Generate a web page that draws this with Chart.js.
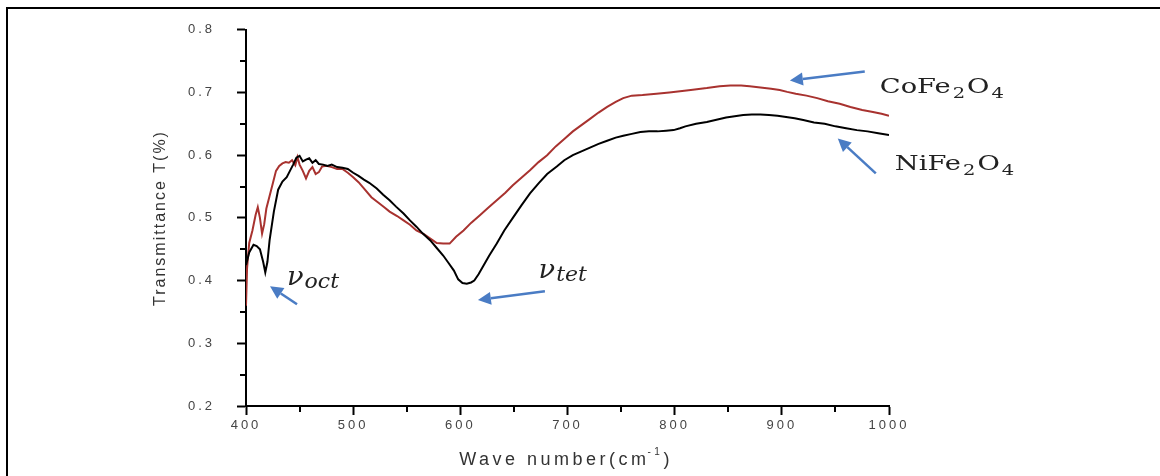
<!DOCTYPE html>
<html>
<head>
<meta charset="utf-8">
<script src="https://cdn.jsdelivr.net/npm/chart.js@4/dist/chart.umd.min.js"></script>
<style>
    body { margin: 0; background: #fff; }
    #wrap { position: relative; width: 1160px; height: 476px; }
    #frame {
        position: absolute; left: 6px; top: 7px; right: 0; bottom: 0;
        border-top: 2px solid #000; border-left: 2px solid #000;
        pointer-events: none;
    }
</style>
</head>
<body>
<div id="wrap">
    <canvas id="ftir"></canvas>
    <div id="frame"></div>
</div>
<script>
// ---------- DATA ----------
const niWave = [400, 403, 407, 410, 413, 416, 418, 420, 422, 426, 430, 434, 438, 441, 444, 447, 450, 453, 456, 459,
    462, 465, 468, 472, 476, 480, 485, 490, 495, 500, 505, 510, 515, 522, 528, 534, 540, 547, 553, 559,
    565, 572, 578, 584, 589, 594, 598, 602, 606, 610, 613, 617, 621, 627, 634, 641, 649, 657, 665, 673,
    681, 690, 697, 705, 713, 721, 729, 737, 745, 752, 760, 768, 776, 784, 792, 799, 805, 810, 820, 830,
    840, 848, 856, 864, 872, 880, 888, 896, 904, 912, 920, 930, 940, 950, 960, 970, 980, 990, 1000];
const niT = [0.425, 0.445, 0.457, 0.455, 0.45, 0.43, 0.413, 0.43, 0.464, 0.51, 0.545, 0.558, 0.565, 0.575, 0.585, 0.596, 0.599, 0.59, 0.593, 0.595,
    0.588, 0.592, 0.586, 0.585, 0.583, 0.585, 0.581, 0.58, 0.578, 0.572, 0.567, 0.561, 0.556, 0.547, 0.537, 0.528, 0.518, 0.507, 0.496, 0.486,
    0.475, 0.464, 0.452, 0.44, 0.428, 0.416, 0.402, 0.396, 0.395, 0.397, 0.4, 0.41, 0.422, 0.44, 0.459, 0.48, 0.5, 0.52, 0.539, 0.555,
    0.57, 0.582, 0.592, 0.6, 0.606, 0.612, 0.618, 0.623, 0.628, 0.631, 0.634, 0.637, 0.638, 0.638, 0.639, 0.64, 0.643, 0.646, 0.65, 0.653,
    0.657, 0.66, 0.662, 0.664, 0.665, 0.665, 0.664, 0.663, 0.661, 0.659, 0.656, 0.652, 0.65, 0.646, 0.643, 0.64, 0.638, 0.635, 0.632];

const coWave = [400, 401, 403, 406, 409, 411, 413, 415, 417, 419, 422, 425, 428, 431, 434, 437, 440, 443, 446, 448,
    450, 453, 456, 459, 462, 465, 468, 471, 475, 480, 485, 490, 495, 500, 505, 510, 517, 523, 529, 534,
    541, 547, 553, 559, 566, 572, 578, 584, 590, 596, 603, 610, 618, 626, 634, 642, 649, 657, 665, 673,
    681, 689, 697, 705, 713, 721, 729, 737, 745, 752, 760, 770, 783, 795, 805, 815, 830, 842, 852, 862,
    870, 880, 890, 898, 905, 913, 923, 933, 943, 954, 964, 975, 985, 993, 1000];
const coT = [0.36, 0.42, 0.46, 0.48, 0.505, 0.517, 0.5, 0.475, 0.49, 0.515, 0.535, 0.555, 0.575, 0.583, 0.587, 0.589, 0.588, 0.592, 0.584, 0.597,
    0.585, 0.575, 0.563, 0.575, 0.581, 0.57, 0.573, 0.582, 0.583, 0.581, 0.578, 0.578, 0.572, 0.565, 0.557, 0.547, 0.533, 0.525, 0.517, 0.51,
    0.503, 0.496, 0.489, 0.48, 0.474, 0.467, 0.46, 0.459, 0.459, 0.47, 0.48, 0.492, 0.504, 0.516, 0.528, 0.54, 0.552, 0.564, 0.576, 0.589,
    0.6, 0.614, 0.626, 0.638, 0.648, 0.658, 0.668, 0.677, 0.685, 0.691, 0.695, 0.696, 0.698, 0.7, 0.702, 0.704, 0.707, 0.71, 0.711, 0.711,
    0.71, 0.708, 0.706, 0.704, 0.701, 0.698, 0.695, 0.691, 0.686, 0.682, 0.677, 0.672, 0.669, 0.666, 0.663];

const xTicksMinor = [450, 550, 650, 750, 850, 950];
const yTicksMinor = [0.25, 0.35, 0.45, 0.55, 0.65, 0.75];

// ---------- ANNOTATIONS (in data units) ----------
// [tailX, tailY, tipX, tipY]
const arrows = [
    [447.6, 0.3624, 422.4, 0.391],
    [678.9, 0.383, 616.4, 0.369],
    [977.4, 0.7334, 907.5, 0.719],
    [987.7, 0.571, 952.2, 0.6268]
];
const nuLabels = [
    { x: 438.2, y: 0.391, sub: 'oct' },
    { x: 673.0, y: 0.402, sub: 'tet' }
];
const formulaLabels = [
    { x: 991.4, y: 0.7, parts: ['CoFe', '2', 'O', '4'] },
    { x: 1005.4, y: 0.577, parts: ['NiFe', '2', 'O', '4'] }
];

const toPts = (xs, ys) => xs.map((x, i) => ({ x, y: ys[i] }));

// ---------- DRAW HELPERS ----------
function stretchText(ctx, str, x, y, sx) {
    ctx.save();
    ctx.translate(x, y);
    ctx.scale(sx, 1);
    ctx.fillText(str, 0, 0);
    ctx.restore();
    return ctx.measureText(str).width * sx;
}

function drawArrow(ctx, x1, y1, x2, y2) {
    const ang = Math.atan2(y2 - y1, x2 - x1);
    const len = 13, half = 6.5;
    const bx = x2 - Math.cos(ang) * len, by = y2 - Math.sin(ang) * len;
    ctx.strokeStyle = '#4a7cc4';
    ctx.fillStyle = '#4a7cc4';
    ctx.lineWidth = 2.5;
    ctx.beginPath();
    ctx.moveTo(x1, y1);
    ctx.lineTo(bx, by);
    ctx.stroke();
    ctx.beginPath();
    ctx.moveTo(x2, y2);
    ctx.lineTo(bx + Math.sin(ang) * half, by - Math.cos(ang) * half);
    ctx.lineTo(bx - Math.sin(ang) * half, by + Math.cos(ang) * half);
    ctx.closePath();
    ctx.fill();
}

const decorPlugin = {
    id: 'decor',
    beforeDraw(chart) {
        chart.ctx.letterSpacing = '3px';
    },
    afterDraw(chart) {
        const ctx = chart.ctx;
        const xs = chart.scales.x, ys = chart.scales.y;
        const area = chart.chartArea;
        ctx.save();
        ctx.letterSpacing = '0px';

        // minor ticks
        ctx.strokeStyle = '#000';
        ctx.lineWidth = 2;
        ctx.beginPath();
        xTicksMinor.forEach(v => {
            const px = Math.round(xs.getPixelForValue(v));
            ctx.moveTo(px, area.bottom);
            ctx.lineTo(px, area.bottom + 6);
        });
        yTicksMinor.forEach(v => {
            const py = Math.round(ys.getPixelForValue(v));
            ctx.moveTo(area.left - 6, py);
            ctx.lineTo(area.left, py);
        });
        ctx.stroke();

        // axis titles
        ctx.fillStyle = '#333';
        ctx.textBaseline = 'alphabetic';
        ctx.save();
        ctx.translate(165, 218);
        ctx.rotate(-Math.PI / 2);
        ctx.font = '16px "Liberation Sans", Arial, sans-serif';
        ctx.letterSpacing = '2px';
        ctx.textAlign = 'center';
        ctx.fillText('Transmittance T(%)', 0, 0);
        ctx.restore();

        ctx.save();
        ctx.letterSpacing = '3.5px';
        ctx.textAlign = 'left';
        const big = '18px "Liberation Sans", Arial, sans-serif';
        const small = '10px "Liberation Sans", Arial, sans-serif';
        ctx.font = big;
        const w1 = ctx.measureText('Wave number(cm').width;
        ctx.font = small;
        const w2 = ctx.measureText('-1').width;
        ctx.font = big;
        const w3 = ctx.measureText(')').width;
        let tx = 567 - (w1 + w2 + w3) / 2;
        const base = 465;
        ctx.font = big;
        ctx.fillText('Wave number(cm', tx, base);
        tx += w1;
        ctx.font = small;
        ctx.fillText('-1', tx - 2, base - 10);
        tx += w2;
        ctx.font = big;
        ctx.fillText(')', tx - 2, base);
        ctx.restore();

        // arrows
        arrows.forEach(a => drawArrow(ctx,
            xs.getPixelForValue(a[0]), ys.getPixelForValue(a[1]),
            xs.getPixelForValue(a[2]), ys.getPixelForValue(a[3])));

        // nu labels
        ctx.fillStyle = '#222';
        nuLabels.forEach(l => {
            let px = xs.getPixelForValue(l.x);
            const py = ys.getPixelForValue(l.y);
            ctx.font = 'italic 26px "DejaVu Serif", serif';
            px += stretchText(ctx, '\u03BD', px, py - 1, 1.05);
            ctx.font = 'italic 21px "DejaVu Serif", serif';
            stretchText(ctx, l.sub, px + 1, py + 2, 1.05);
        });

        // formula labels
        formulaLabels.forEach(l => {
            let px = xs.getPixelForValue(l.x);
            const py = ys.getPixelForValue(l.y);
            l.parts.forEach((p, i) => {
                const isSub = i % 2 === 1;
                ctx.font = isSub ? '15px "DejaVu Serif", serif' : '21px "DejaVu Serif", serif';
                px += stretchText(ctx, p, px, isSub ? py + 5 : py, 1.3) + 2;
            });
        });
        ctx.restore();
    }
};

// ---------- CHART ----------
new Chart(document.getElementById('ftir'), {
    type: 'line',
    data: {
        datasets: [
            {
                label: 'NiFe2O4',
                data: toPts(niWave, niT),
                borderColor: '#000',
                borderWidth: 2,
                pointRadius: 0,
                tension: 0
            },
            {
                label: 'CoFe2O4',
                data: toPts(coWave, coT),
                borderColor: '#a8322f',
                borderWidth: 2,
                pointRadius: 0,
                tension: 0
            }
        ]
    },
    options: {
        responsive: true,
        maintainAspectRatio: false,
        animation: false,
        events: [],
        layout: { padding: { left: 140, right: 271, top: 29, bottom: 0 } },
        plugins: { legend: { display: false }, tooltip: { enabled: false } },
        scales: {
            x: {
                type: 'linear',
                min: 400,
                max: 1000,
                ticks: {
                    stepSize: 100,
                    padding: 3,
                    color: '#444',
                    font: { family: '"Liberation Sans", Arial, sans-serif', size: 13 },
                    maxRotation: 0,
                    callback: v => String(v)
                },
                grid: { drawOnChartArea: false, drawTicks: true, tickLength: 9, tickWidth: 2, tickColor: '#000' },
                border: { display: true, width: 2, color: '#000' },
                afterFit: s => { s.height = 70; }
            },
            y: {
                min: 0.2,
                max: 0.8,
                ticks: {
                    stepSize: 0.1,
                    padding: 22,
                    color: '#444',
                    font: { family: '"Liberation Sans", Arial, sans-serif', size: 13 },
                    callback: v => v.toFixed(1)
                },
                grid: { drawOnChartArea: false, drawTicks: true, tickLength: 9, tickWidth: 2, tickColor: '#000' },
                border: { display: true, width: 2, color: '#000' },
                afterFit: s => { s.width = 106; }
            }
        }
    },
    plugins: [decorPlugin]
});
</script>
</body>
</html>
